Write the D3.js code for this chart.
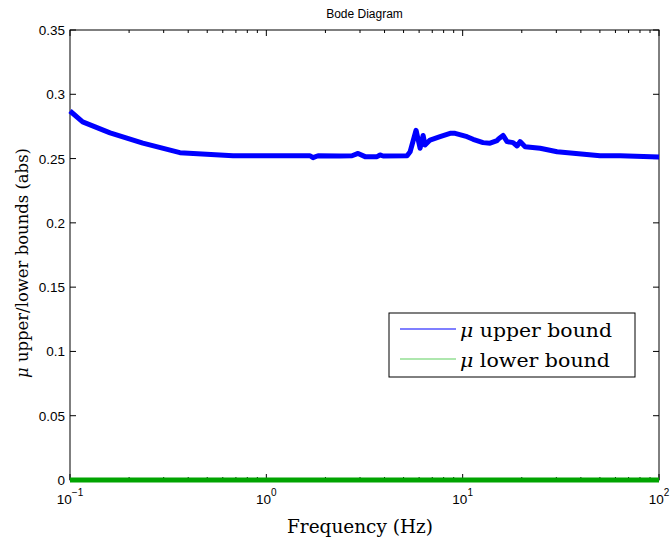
<!DOCTYPE html>
<html>
<head>
<meta charset="utf-8">
<script src="https://cdn.jsdelivr.net/npm/d3@7"></script>
<style>
  body { margin: 0; background: #fff; }
  svg { display: block; }
</style>
</head>
<body>
<div id="chart"></div>
<script>
// frequency (Hz) and mu upper bound
const freq = [0.1, 0.116, 0.16, 0.235, 0.363, 0.677, 1.485, 1.669, 1.729, 1.834, 2.374, 2.733, 2.932,
  3.183, 3.664, 3.795, 3.93, 5.21, 5.40, 5.79, 6.07, 6.29, 6.43, 6.82, 7.67, 8.63, 9.15, 10.53,
  11.30, 12.70, 13.79, 14.97, 15.33, 16.06, 16.83, 18.06, 18.93, 19.61, 20.80, 24.80, 30.27,
  50.1, 63.4, 100]
const muUpper = [0.287, 0.2785, 0.270, 0.262, 0.2546, 0.2522, 0.2522, 0.2522, 0.2507, 0.2522, 0.252,
  0.2522, 0.254, 0.2515, 0.2515, 0.2528, 0.252, 0.2522, 0.2553, 0.272, 0.258, 0.268, 0.2605,
  0.2644, 0.267, 0.2696, 0.2696, 0.267, 0.265, 0.2624, 0.262, 0.264, 0.2657, 0.268, 0.2632,
  0.2624, 0.2598, 0.2632, 0.2592, 0.258, 0.2553, 0.2522, 0.2522, 0.2512]
const muLower = freq.map(() => 0)
const yTicks = [0, 0.05, 0.1, 0.15, 0.2, 0.25, 0.3, 0.35]
const xDecades = [-1, 0, 1, 2]
const legendLabels = ["upper bound", "lower bound"]

const W = 671, H = 542
const margin = {top: 30, right: 12, bottom: 62, left: 70}
const width = W - margin.left - margin.right
const height = H - margin.top - margin.bottom

const svg = d3.select("#chart").append("svg")
    .attr("width", W)
    .attr("height", H)
const plt = svg.append("g")
    .attr("transform", "translate(" + margin.left + "," + margin.top + ")")

const x = d3.scaleLog().domain([0.1, 100]).range([0, width])
const y = d3.scaleLinear().domain([0, 0.35]).range([height, 0])

// minor ticks for the log axis
let minor = []
for (let e = -1; e < 2; e++) {
    for (let m = 2; m < 10; m++) minor.push(m * Math.pow(10, e))
}
const major = xDecades.map(e => Math.pow(10, e))

const fontSans = "Liberation Sans, Arial, sans-serif"
const fontSerif = "DejaVu Serif, Liberation Serif, serif"

// box
plt.append("rect")
    .attr("width", width).attr("height", height)
    .attr("fill", "none").attr("stroke", "#000").attr("stroke-width", 1)

// x ticks (bottom and top, inward)
function xTickLines(vals, len) {
    vals.forEach(v => {
        plt.append("line").attr("x1", x(v)).attr("x2", x(v))
            .attr("y1", height).attr("y2", height - len)
            .attr("stroke", "#000")
        plt.append("line").attr("x1", x(v)).attr("x2", x(v))
            .attr("y1", 0).attr("y2", len)
            .attr("stroke", "#000")
    })
}
xTickLines(minor, 3)
xTickLines(major, 6)

// y ticks (left and right, inward)
yTicks.forEach(v => {
    plt.append("line").attr("x1", 0).attr("x2", 6)
        .attr("y1", y(v)).attr("y2", y(v)).attr("stroke", "#000")
    plt.append("line").attr("x1", width).attr("x2", width - 6)
        .attr("y1", y(v)).attr("y2", y(v)).attr("stroke", "#000")
})

// y tick labels
plt.selectAll(".ylab")
    .data(yTicks)
    .enter()
    .append("text")
    .attr("x", -5)
    .attr("y", d => y(d) + 5)
    .attr("text-anchor", "end")
    .style("font-family", fontSans)
    .style("font-size", "13.5px")
    .text(d => d === 0 ? "0" : d3.format(".2~f")(d))

// x tick labels 10^n
const xl = plt.selectAll(".xlab")
    .data(xDecades)
    .enter()
    .append("text")
    .attr("x", d => x(Math.pow(10, d)))
    .attr("y", height + 24)
    .attr("text-anchor", "middle")
    .style("font-family", fontSans)
    .style("font-size", "13.5px")
xl.append("tspan").text("10")
xl.append("tspan")
    .attr("dy", -8)
    .style("font-size", "10px")
    .text(d => d === -1 ? "\u22121" : String(d))

// lines
const line = d3.line()
    .x((d, i) => x(freq[i]))
    .y(d => y(d))

plt.append("path")
    .datum(muUpper)
    .attr("d", line)
    .attr("fill", "none")
    .attr("stroke", "#0000ff")
    .attr("stroke-width", 5)
    .attr("stroke-linejoin", "round")

plt.append("path")
    .datum(muLower)
    .attr("d", line)
    .attr("fill", "none")
    .attr("stroke", "#00a400")
    .attr("stroke-width", 5)

// title
svg.append("text")
    .attr("x", margin.left + width / 2)
    .attr("y", 18)
    .attr("text-anchor", "middle")
    .style("font-family", fontSans)
    .style("font-size", "12px")
    .text("Bode Diagram")

// axis labels (LaTeX-like serif, fitted to the reference widths)
svg.append("text")
    .attr("x", 287)
    .attr("y", 533)
    .attr("textLength", 146)
    .attr("lengthAdjust", "spacingAndGlyphs")
    .style("font-family", fontSerif)
    .style("font-size", "19px")
    .text("Frequency (Hz)")

const yl = svg.append("text")
    .attr("transform", "translate(28,378) rotate(-90)")
    .attr("textLength", 230)
    .attr("lengthAdjust", "spacingAndGlyphs")
    .style("font-family", fontSerif)
    .style("font-size", "17px")
yl.append("tspan").attr("font-style", "italic").text("\u03bc")
yl.append("tspan").text(" upper/lower bounds (abs)")

// legend
const leg = svg.append("g").attr("transform", "translate(389,313)")
leg.append("rect")
    .attr("width", 246).attr("height", 64)
    .attr("fill", "#fff").attr("stroke", "#000").attr("stroke-width", 1)
const legColors = ["#0000ff", "#5fcf5f"]
const legWidths = [152, 150]
legendLabels.forEach((lab, i) => {
    leg.append("line")
        .attr("x1", 11).attr("x2", 67)
        .attr("y1", 16 + i * 30).attr("y2", 16 + i * 30)
        .attr("stroke", legColors[i]).attr("stroke-width", 1.2)
    const t = leg.append("text")
        .attr("x", 71).attr("y", 24 + i * 30)
        .attr("textLength", legWidths[i])
        .attr("lengthAdjust", "spacingAndGlyphs")
        .style("font-family", fontSerif)
        .style("font-size", "19px")
    t.append("tspan").attr("font-style", "italic").text("\u03bc")
    t.append("tspan").text(" " + lab)
})
</script>
</body>
</html>
